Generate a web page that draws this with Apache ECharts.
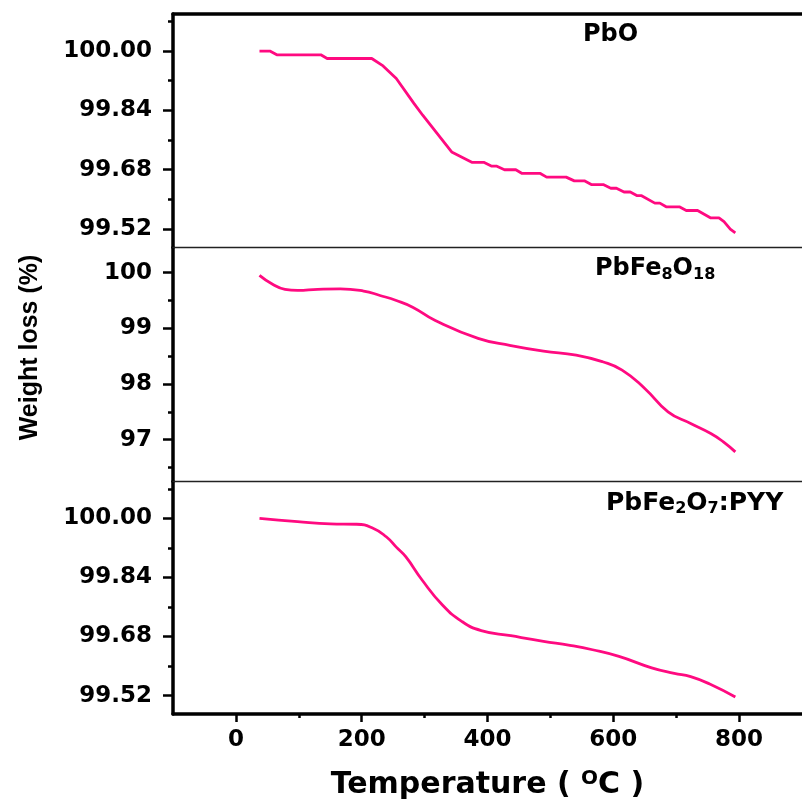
<!DOCTYPE html>
<html>
<head>
<meta charset="utf-8">
<script src="https://cdn.jsdelivr.net/npm/echarts@6/dist/echarts.min.js"></script>
<style>
  html, body { margin: 0; padding: 0; background: #fff; }
  #chart { width: 802px; height: 801px; }
</style>
</head>
<body>
<div id="chart"></div>
<script>
// TGA curves: temperature (°C) and remaining weight (%)
const tempPbO = [37.5, 54, 65, 135, 145, 216, 234, 255, 283, 297, 343, 375, 394, 406, 414, 427, 445, 455, 484, 494, 525, 538, 554, 565, 584, 596, 605, 617, 627, 638, 645, 666, 674, 684, 705, 716, 734, 755, 768, 776, 786, 794];
const wPbO    = [100.00, 100.00, 99.99, 99.99, 99.98, 99.98, 99.96, 99.926, 99.859, 99.827, 99.728, 99.70, 99.70, 99.69, 99.69, 99.68, 99.68, 99.67, 99.67, 99.66, 99.66, 99.65, 99.65, 99.64, 99.64, 99.63, 99.63, 99.62, 99.62, 99.61, 99.61, 99.59, 99.59, 99.58, 99.58, 99.57, 99.57, 99.55, 99.55, 99.54, 99.52, 99.51];

const tempFe8 = [37.5, 57, 78, 98, 130, 166, 203, 229, 255, 281, 317, 385, 437, 489, 541, 583, 614, 650, 687, 723, 755, 775, 794];
const wFe8    = [99.95, 99.80, 99.70, 99.68, 99.70, 99.71, 99.67, 99.59, 99.50, 99.38, 99.14, 98.82, 98.69, 98.59, 98.52, 98.40, 98.25, 97.92, 97.50, 97.29, 97.11, 96.96, 96.78];

const tempFe2 = [37.5, 98, 150, 192, 218, 239, 255, 270, 296, 328, 359, 390, 437, 489, 531, 567, 609, 661, 697, 723, 755, 794];
const wFe2    = [100.00, 99.991, 99.985, 99.984, 99.973, 99.95, 99.922, 99.896, 99.833, 99.766, 99.721, 99.696, 99.682, 99.667, 99.656, 99.644, 99.626, 99.595, 99.580, 99.571, 99.550, 99.516];

// Axis ticks
const xTicks = [0, 200, 400, 600, 800];
const xMinorTicks = [100, 300, 500, 700];
const yTicksFine = [99.52, 99.68, 99.84, 100.00];
const yMinorFine = [99.60, 99.76, 99.92, 100.08];
const yTicksCoarse = [97, 98, 99, 100];
const yMinorCoarse = [96.5, 97.5, 98.5, 99.5];

const FONT = 'DejaVu Sans';
const LINE_COLOR = '#ff0a80';
const X_MIN = -100, X_MAX = 900;

const pairs = (xs, ys) => xs.map((x, i) => [x, ys[i]]);

const grids = [
  { left: 173, width: 640, top: 14, height: 233.6 },
  { left: 173, width: 640, top: 247.6, height: 233.8 },
  { left: 173, width: 640, top: 481.4, height: 233.2 }
];

function hiddenX(grid) {
  return { type: 'value', gridIndex: grid, min: X_MIN, max: X_MAX, position: 'bottom',
    axisLine: { show: false, onZero: false }, axisTick: { show: false }, axisLabel: { show: false }, splitLine: { show: false } };
}
function frameX(grid, width, color) {
  return { type: 'value', gridIndex: grid, min: X_MIN, max: X_MAX, position: 'top',
    axisLine: { show: true, onZero: false, lineStyle: { color: color, width: width } },
    axisTick: { show: false }, axisLabel: { show: false }, splitLine: { show: false } };
}
function mainY(grid, min, max, ticks, digits, extra) {
  return Object.assign({
    type: 'value', gridIndex: grid, min: min, max: max, position: 'left',
    axisLine: { show: true, onZero: false, lineStyle: { color: '#000', width: 3.5 } },
    axisTick: { show: true, inside: false, length: 10, customValues: ticks, lineStyle: { color: '#000', width: 2.5 } },
    axisLabel: { customValues: ticks, formatter: v => v.toFixed(digits), margin: 21, color: '#000',
      fontFamily: FONT, fontWeight: 'bold', fontSize: 23 },
    splitLine: { show: false }
  }, extra || {});
}
function minorY(grid, min, max, ticks) {
  return { type: 'value', gridIndex: grid, min: min, max: max, position: 'left',
    axisLine: { show: false, onZero: false },
    axisTick: { show: true, inside: false, length: 5, customValues: ticks, lineStyle: { color: '#000', width: 2.5 } },
    axisLabel: { show: false }, splitLine: { show: false } };
}

const subStyle = { fontFamily: FONT, fontWeight: 'bold', fontSize: 16, lineHeight: 15, verticalAlign: 'bottom', color: '#000' };

const option = {
  backgroundColor: '#fff',
  animation: false,
  grid: grids,
  title: [
    { text: 'PbO', left: 583, top: 23, padding: 0,
      textStyle: { fontFamily: FONT, fontWeight: 'bold', fontSize: 24, color: '#000' } },
    { text: 'PbFe{s|8}O{s|18}', left: 595, top: 255, padding: 0,
      textStyle: { fontFamily: FONT, fontWeight: 'bold', fontSize: 24, color: '#000', lineHeight: 28, rich: { s: subStyle } } },
    { text: 'PbFe{s|2}O{s|7}:PYY', left: 606, top: 489, padding: 0,
      textStyle: { fontFamily: FONT, fontWeight: 'bold', fontSize: 25, color: '#000', lineHeight: 28, rich: { s: subStyle } } }
  ],
  xAxis: [
    hiddenX(0),
    frameX(0, 3.5, '#000'),
    hiddenX(1),
    frameX(1, 1.4, '#222'),
    {
      type: 'value', gridIndex: 2, min: X_MIN, max: X_MAX, position: 'bottom',
      axisLine: { show: true, onZero: false, lineStyle: { color: '#000', width: 3.5 } },
      axisTick: { show: true, inside: false, length: 8, customValues: xTicks, lineStyle: { color: '#000', width: 2.5 } },
      axisLabel: { customValues: xTicks, margin: 15, color: '#000', fontFamily: FONT, fontWeight: 'bold', fontSize: 23 },
      splitLine: { show: false },
      name: '{t|Temperature ( }{o|O}{t|C )}',
      nameLocation: 'middle', nameGap: 55,
      nameTextStyle: {
        rich: {
          t: { fontFamily: FONT, fontWeight: 'bold', fontSize: 30, color: '#000', lineHeight: 32 },
          o: { fontFamily: FONT, fontWeight: 'bold', fontSize: 20, color: '#000', lineHeight: 32, verticalAlign: 'top' }
        }
      }
    },
    {
      type: 'value', gridIndex: 2, min: X_MIN, max: X_MAX, position: 'bottom',
      axisLine: { show: false, onZero: false },
      axisTick: { show: true, inside: false, length: 4, customValues: xMinorTicks, lineStyle: { color: '#000', width: 2.5 } },
      axisLabel: { show: false }, splitLine: { show: false }
    },
    frameX(2, 1.4, '#222')
  ],
  yAxis: [
    mainY(0, 99.47, 100.10, yTicksFine, 2),
    minorY(0, 99.47, 100.10, yMinorFine),
    mainY(1, 96.25, 100.45, yTicksCoarse, 0, {
      name: 'Weight loss (%)', nameLocation: 'middle', nameRotate: 90, nameGap: 130,
      nameTextStyle: { fontFamily: 'Liberation Sans', fontWeight: 'bold', fontSize: 25, color: '#000', padding: [0, 0, 0, 34] }
    }),
    minorY(1, 96.25, 100.45, yMinorCoarse),
    mainY(2, 99.47, 100.10, yTicksFine, 2),
    minorY(2, 99.47, 100.10, yMinorFine)
  ],
  series: [
    { name: 'PbO', type: 'line', xAxisIndex: 0, yAxisIndex: 0, data: pairs(tempPbO, wPbO),
      showSymbol: false, smooth: false, lineStyle: { color: LINE_COLOR, width: 2.8 }, itemStyle: { color: LINE_COLOR } },
    { name: 'PbFe8O18', type: 'line', xAxisIndex: 2, yAxisIndex: 2, data: pairs(tempFe8, wFe8),
      showSymbol: false, smooth: 0.5, lineStyle: { color: LINE_COLOR, width: 2.8 }, itemStyle: { color: LINE_COLOR } },
    { name: 'PbFe2O7:PYY', type: 'line', xAxisIndex: 4, yAxisIndex: 4, data: pairs(tempFe2, wFe2),
      showSymbol: false, smooth: 0.5, lineStyle: { color: LINE_COLOR, width: 2.8 }, itemStyle: { color: LINE_COLOR } }
  ]
};

const chart = echarts.init(document.getElementById('chart'), null, { renderer: 'canvas' });
chart.setOption(option);
</script>
</body>
</html>
